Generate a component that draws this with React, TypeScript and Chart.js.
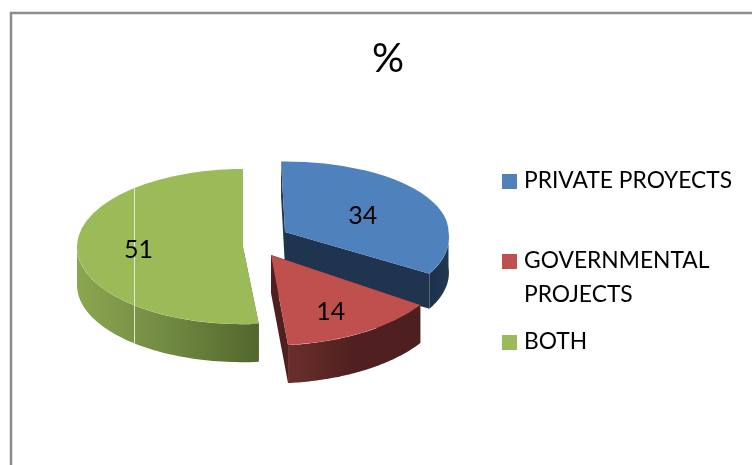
import React, { useEffect, useRef } from "react";
import { Chart, registerables } from "chart.js";

Chart.register(...registerables);

const categories = ["PRIVATE PROYECTS", "GOVERNMENTAL PROJECTS", "BOTH"];
const values = [34, 14, 51];
const legendLines = [["PRIVATE PROYECTS"], ["GOVERNMENTAL", "PROJECTS"], ["BOTH"]];
const topColors = ["#4f81bd", "#c0504d", "#9bbb59"];
const cutColors = ["#1f344f", "#4f201f", "#55682f"];
const sideStops = [
  ["#1c3049", "#1f344f", "#22394f"],
  ["#6b2f2d", "#4f201f", "#4d1f1e"],
  ["#8ba650", "#718a42", "#53662d"],
];

// Projection of each exploded slice: apex, x scale, upper/lower y scale, lower-half shear,
// small perspective turn (radians) and extrusion depth.
const sliceViews = [
  { x: 285, y: 232, sx: 0.985, up: 0.425, down: 0.47, shear: 0.15, turn: -0.024, depth: 35 },
  { x: 271, y: 255, sx: 1.08, up: 0.545, down: 0.545, shear: 0, turn: 0, depth: 38 },
  { x: 243, y: 247, sx: 1.0, up: 0.47, down: 0.465, shear: 0, turn: 0, depth: 38 },
];
const labelFractions = [0.547, 0.65, 0.63];
const labelDrops = [3, 6, 1];
const legendLayout = [
  { box: 174, base: [188] },
  { box: 254, base: [268, 302] },
  { box: 335, base: [349] },
];
const FONT = "Lato";

const pie3d = {
  id: "pie3d",
  beforeDraw(chart: any) {
    const { ctx, width, height } = chart;
    ctx.save();
    ctx.fillStyle = "#ffffff";
    ctx.fillRect(0, 0, width, height);
    ctx.strokeStyle = "#d4d4d4";
    ctx.lineWidth = 3.4;
    ctx.strokeRect(11, 13, 900, 700);
    ctx.strokeStyle = "#868686";
    ctx.lineWidth = 1.8;
    ctx.strokeRect(11, 13, 900, 700);
    ctx.restore();
  },
  beforeDatasetDraw(chart: any) {
    const { ctx } = chart;
    const arcs = chart.getDatasetMeta(0).data;
    arcs.forEach((arc: any, i: number) => {
      const v = sliceViews[i];
      const r = arc.outerRadius;
      // a is the on-screen angle, i.e. the arc's own angle plus the slice's turn
      const pt = (a: number) => {
        const s = Math.sin(a);
        const dy = r * s * (s < 0 ? v.up : v.down);
        return { x: v.x + r * v.sx * Math.cos(a) + (s > 0 ? v.shear * dy : 0), y: v.y + dy };
      };
      const start = arc.startAngle + v.turn;
      const end = arc.endAngle + v.turn;
      const quad = (p: any) => {
        ctx.beginPath();
        ctx.moveTo(v.x, v.y);
        ctx.lineTo(p.x, p.y);
        ctx.lineTo(p.x, p.y + v.depth);
        ctx.lineTo(v.x, v.y + v.depth);
        ctx.closePath();
        ctx.fillStyle = cutColors[i];
        ctx.fill();
      };
      // cut faces
      quad(pt(start));
      quad(pt(end));
      // outer wall: the part of the rim that faces the viewer
      let s0 = start;
      while (s0 < -Math.PI / 2 - 0.5) s0 += Math.PI * 2;
      const s1 = s0 + (end - start);
      const a = Math.max(s0, 0);
      const b = Math.min(s1, Math.PI);
      if (b > a) {
        const n = 60;
        const rim: any[] = [];
        for (let k = 0; k <= n; k++) rim.push(pt(a + ((b - a) * k) / n));
        const xs = rim.map((p) => p.x);
        const g = ctx.createLinearGradient(Math.min(...xs), 0, Math.max(...xs), 0);
        sideStops[i].forEach((c, k) => g.addColorStop(k / 2, c));
        ctx.beginPath();
        rim.forEach((p, k) => (k ? ctx.lineTo(p.x, p.y) : ctx.moveTo(p.x, p.y)));
        rim.slice().reverse().forEach((p) => ctx.lineTo(p.x, p.y + v.depth));
        ctx.closePath();
        ctx.fillStyle = g;
        ctx.fill();
      }
      // top face: the library's own arc, flattened separately above and below the centre
      [
        { k: v.up, y0: 0, y1: v.y, shear: 0 },
        { k: v.down, y0: v.y, y1: chart.height, shear: v.shear * v.down },
      ].forEach((h) => {
        ctx.save();
        ctx.beginPath();
        ctx.rect(0, h.y0, chart.width, h.y1 - h.y0);
        ctx.clip();
        ctx.translate(v.x, v.y);
        ctx.transform(v.sx, 0, h.shear, h.k, 0, 0);
        ctx.rotate(v.turn);
        ctx.translate(-arc.x, -arc.y);
        arc.draw(ctx);
        ctx.restore();
      });
    });
    return false;
  },
  afterDatasetsDraw(chart: any) {
    const { ctx } = chart;
    const arcs = chart.getDatasetMeta(0).data;
    // thin pale seam crossing the green slice in the source picture
    ctx.save();
    ctx.fillStyle = "rgba(235,240,225,0.9)";
    ctx.fillRect(134, 188, 1, 155);
    ctx.fillStyle = "#000000";
    ctx.font = `25px ${FONT}`;
    ctx.textAlign = "center";
    ctx.textBaseline = "middle";
    arcs.forEach((arc: any, i: number) => {
      const v = sliceViews[i];
      const m = (arc.startAngle + arc.endAngle) / 2 + v.turn;
      const r = arc.outerRadius * labelFractions[i];
      const s = Math.sin(m);
      ctx.fillText(
        String(values[i]),
        v.x + r * v.sx * Math.cos(m),
        v.y + r * s * (s < 0 ? v.up : v.down) + labelDrops[i]
      );
    });
    // legend
    ctx.textAlign = "left";
    ctx.textBaseline = "alphabetic";
    ctx.font = `22.8px ${FONT}`;
    legendLines.forEach((lines, i) => {
      ctx.fillStyle = topColors[i];
      ctx.fillRect(502, legendLayout[i].box, 15, 15);
      ctx.fillStyle = "#000000";
      lines.forEach((t, k) => ctx.fillText(t, 524, legendLayout[i].base[k]));
    });
    ctx.restore();
  },
};

export default function App() {
  const ref = useRef<HTMLCanvasElement>(null);
  useEffect(() => {
    const chart = new Chart(ref.current as HTMLCanvasElement, {
      type: "pie",
      data: {
        labels: categories,
        datasets: [{ data: values, backgroundColor: topColors, borderWidth: 0 }],
      },
      options: {
        responsive: false,
        animation: false,
        events: [],
        rotation: 0,
        radius: 166,
        layout: { padding: { left: 24, top: 35 } },
        plugins: {
          legend: { display: false },
          tooltip: { enabled: false },
          title: {
            display: true,
            text: "%",
            color: "#000000",
            font: { family: FONT, size: 40, weight: "normal" },
            padding: 0,
          },
        },
      },
      plugins: [pie3d],
    } as any);
    return () => chart.destroy();
  }, []);
  return (
    <div style={{ position: "absolute", left: 0, top: 0, width: 752, height: 465, overflow: "hidden" }}>
      <canvas ref={ref} width={752} height={465} style={{ display: "block" }} />
    </div>
  );
}
